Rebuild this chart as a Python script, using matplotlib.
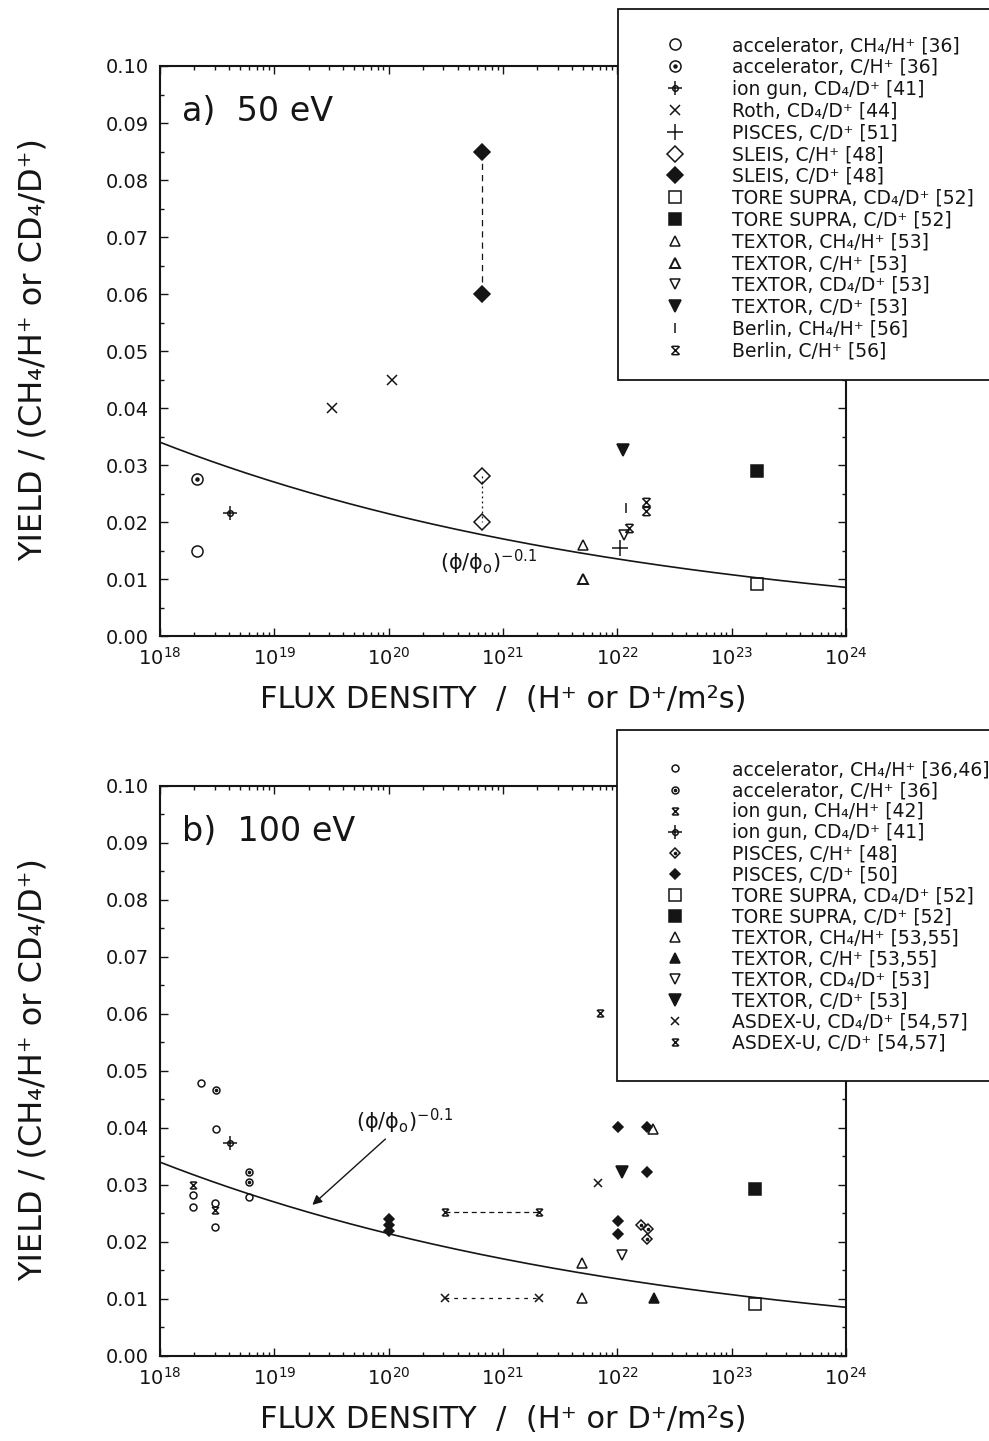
import numpy as np
import matplotlib
matplotlib.use("Agg")
import matplotlib.pyplot as plt
from matplotlib.path import Path
from matplotlib.patches import Rectangle
from matplotlib.legend_handler import HandlerTuple
from matplotlib.ticker import (MultipleLocator, FormatStrFormatter, FixedLocator,
                               LogLocator, NullFormatter, LogFormatterSciNotation)

plt.rcParams['font.family'] = ['DejaVu Sans']
plt.rcParams['mathtext.default'] = 'regular'

# fitted flux dependence, yield = Y0 * (phi/phi0)^-0.1
fit_y0 = 0.034
fit_exp = -0.1
fit_phi0 = 1e18

flux_decades = 10.0 ** np.arange(18, 25)

# ---------------- a) 50 eV ----------------
a_acc_ch4_x = [2.1e18];            a_acc_ch4_y = [0.015]
a_acc_c_x = [2.1e18];              a_acc_c_y = [0.0275]
a_gun_cd4_x = [4.1e18];            a_gun_cd4_y = [0.0215]
a_roth_x = [3.2e19, 1.07e20];      a_roth_y = [0.040, 0.045]
a_pisces_x = [1.05e22];            a_pisces_y = [0.0155]
a_sleis_h_x = [6.5e20, 6.5e20];    a_sleis_h_y = [0.028, 0.020]
a_sleis_d_x = [6.5e20, 6.5e20];    a_sleis_d_y = [0.085, 0.060]
a_tore_cd4_x = [1.66e23];          a_tore_cd4_y = [0.0092]
a_tore_c_x = [1.66e23];            a_tore_c_y = [0.029]
a_tx_ch4_x = [5.0e21];             a_tx_ch4_y = [0.016]
a_tx_ch_x = [5.0e21];              a_tx_ch_y = [0.010]
a_tx_cd4_x = [1.15e22];            a_tx_cd4_y = [0.0177]
a_tx_cd_x = [1.13e22];             a_tx_cd_y = [0.0326]
a_berlin_ch4_x = [1.2e22];         a_berlin_ch4_y = [0.0224]
a_berlin_c_x = [1.78e22, 1.78e22, 1.27e22]
a_berlin_c_y = [0.0236, 0.0219, 0.0190]

# ---------------- b) 100 eV ----------------
b_acc_ch4_x = [2.3e18, 3.1e18, 1.96e18, 1.96e18, 3.0e18, 3.0e18, 6.0e18]
b_acc_ch4_y = [0.0478, 0.0399, 0.0282, 0.0262, 0.0268, 0.0227, 0.0279]
b_acc_c_x = [3.1e18, 6.0e18, 6.0e18]
b_acc_c_y = [0.0467, 0.0323, 0.0306]
b_gun_ch4_x = [1.96e18, 3.0e18];   b_gun_ch4_y = [0.0300, 0.0256]
b_gun_cd4_x = [4.1e18];            b_gun_cd4_y = [0.0373]
b_pisces_h_x = [1.6e22, 1.85e22, 1.8e22]
b_pisces_h_y = [0.0230, 0.0222, 0.0206]
b_pisces_d_x = [1e20, 1e20, 1e20, 1.02e22, 1.8e22, 1.8e22, 1.02e22, 1.02e22]
b_pisces_d_y = [0.0240, 0.0230, 0.0220, 0.0402, 0.0402, 0.0323, 0.0236, 0.0214]
b_tore_cd4_x = [1.6e23];           b_tore_cd4_y = [0.0091]
b_tore_c_x = [1.6e23];             b_tore_c_y = [0.0293]
b_tx_ch4_x = [4.9e21, 4.9e21, 2.05e22]
b_tx_ch4_y = [0.0163, 0.0101, 0.0398]
b_tx_ch_x = [2.1e22];              b_tx_ch_y = [0.0101]
b_tx_cd4_x = [1.1e22];             b_tx_cd4_y = [0.0177]
b_tx_cd_x = [1.1e22];              b_tx_cd_y = [0.0323]
b_asdex_cd4_x = [3.1e20, 2.05e21, 6.8e21]
b_asdex_cd4_y = [0.0101, 0.0101, 0.0303]
b_asdex_c_x = [3.1e20, 2.05e21, 7.1e21]
b_asdex_c_y = [0.0253, 0.0253, 0.0602]

labels_a = [
    'accelerator, CH₄/H⁺ [36]',
    'accelerator, C/H⁺ [36]',
    'ion gun, CD₄/D⁺ [41]',
    'Roth, CD₄/D⁺ [44]',
    'PISCES, C/D⁺ [51]',
    'SLEIS, C/H⁺ [48]',
    'SLEIS, C/D⁺ [48]',
    'TORE SUPRA, CD₄/D⁺ [52]',
    'TORE SUPRA, C/D⁺ [52]',
    'TEXTOR, CH₄/H⁺ [53]',
    'TEXTOR, C/H⁺ [53]',
    'TEXTOR, CD₄/D⁺ [53]',
    'TEXTOR, C/D⁺ [53]',
    'Berlin, CH₄/H⁺ [56]',
    'Berlin, C/H⁺ [56]',
]
labels_b = [
    'accelerator, CH₄/H⁺ [36,46]',
    'accelerator, C/H⁺ [36]',
    'ion gun, CH₄/H⁺ [42]',
    'ion gun, CD₄/D⁺ [41]',
    'PISCES, C/H⁺ [48]',
    'PISCES, C/D⁺ [50]',
    'TORE SUPRA, CD₄/D⁺ [52]',
    'TORE SUPRA, C/D⁺ [52]',
    'TEXTOR, CH₄/H⁺ [53,55]',
    'TEXTOR, C/H⁺ [53,55]',
    'TEXTOR, CD₄/D⁺ [53]',
    'TEXTOR, C/D⁺ [53]',
    'ASDEX-U, CD₄/D⁺ [54,57]',
    'ASDEX-U, C/D⁺ [54,57]',
]

# x with bars top and bottom
M, L = Path.MOVETO, Path.LINETO
XBAR = Path([(-1, -1), (1, 1), (-1, 1), (1, -1),
             (-0.8, 1), (0.8, 1), (-0.8, -1), (0.8, -1)],
            [M, L, M, L, M, L, M, L])

INK = '#151515'


def pts(ax, x, y, marker, ms, filled=False, mew=1.1):
    return ax.plot(x, y, ls='none', marker=marker, ms=ms, color=INK,
                   mfc=INK if filled else 'none', mew=mew, zorder=3)[0]


def dot(ax, x, y, ms=2.2):
    return ax.plot(x, y, ls='none', marker='o', ms=ms, color=INK, zorder=4)[0]


def setup(ax, tag):
    ax.set_xscale('log')
    ax.set_xlim(flux_decades[0], flux_decades[-1])
    ax.set_ylim(0, 0.10)
    ax.yaxis.set_major_locator(MultipleLocator(0.01))
    ax.yaxis.set_minor_locator(MultipleLocator(0.005))
    ax.yaxis.set_major_formatter(FormatStrFormatter('%.2f'))
    ax.xaxis.set_major_locator(FixedLocator(flux_decades))
    ax.xaxis.set_major_formatter(LogFormatterSciNotation())
    ax.xaxis.set_minor_locator(LogLocator(base=10, subs=np.arange(2, 10), numticks=100))
    ax.xaxis.set_minor_formatter(NullFormatter())
    ax.tick_params(which='both', direction='in', top=True, right=True,
                   labelsize=14, width=1.0, colors=INK)
    ax.tick_params(which='major', length=6, pad=8)
    ax.tick_params(which='minor', length=3)
    for s in ax.spines.values():
        s.set_linewidth(1.5)
        s.set_color(INK)
    ax.text(0.032, 0.92, tag, transform=ax.transAxes, fontsize=24,
            ha='left', va='center', color=INK)
    phi = np.logspace(18, 24, 200)
    ax.plot(phi, fit_y0 * (phi / fit_phi0) ** fit_exp, color=INK, lw=1.2, zorder=2)


fig = plt.figure(figsize=(9.89, 14.41), dpi=100)
ax1 = fig.add_axes([0.1618, 0.5586, 0.6936, 0.3956])
ax2 = fig.add_axes([0.1618, 0.0590, 0.6936, 0.3956])
setup(ax1, 'a)  50 eV')
setup(ax2, 'b)  100 eV')

# panel a
ax1.plot(a_sleis_d_x, a_sleis_d_y, ls=(0, (5, 4)), color=INK, lw=0.9, zorder=2)
ax1.plot(a_sleis_h_x, a_sleis_h_y, ls=(0, (1.5, 2.5)), color=INK, lw=0.9, zorder=2)
ha = [
    pts(ax1, a_acc_ch4_x, a_acc_ch4_y, 'o', 8),
    (pts(ax1, a_acc_c_x, a_acc_c_y, 'o', 8), dot(ax1, a_acc_c_x, a_acc_c_y)),
    (pts(ax1, a_gun_cd4_x, a_gun_cd4_y, '+', 10), pts(ax1, a_gun_cd4_x, a_gun_cd4_y, 'o', 4)),
    pts(ax1, a_roth_x, a_roth_y, 'x', 7),
    pts(ax1, a_pisces_x, a_pisces_y, '+', 11),
    pts(ax1, a_sleis_h_x, a_sleis_h_y, 'D', 8),
    pts(ax1, a_sleis_d_x, a_sleis_d_y, 'D', 8, filled=True),
    pts(ax1, a_tore_cd4_x, a_tore_cd4_y, 's', 8),
    pts(ax1, a_tore_c_x, a_tore_c_y, 's', 8, filled=True),
    pts(ax1, a_tx_ch4_x, a_tx_ch4_y, '^', 7),
    pts(ax1, a_tx_ch_x, a_tx_ch_y, '^', 7, mew=1.4),
    pts(ax1, a_tx_cd4_x, a_tx_cd4_y, 'v', 7),
    pts(ax1, a_tx_cd_x, a_tx_cd_y, 'v', 8, filled=True),
    pts(ax1, a_berlin_ch4_x, a_berlin_ch4_y, '|', 7),
    pts(ax1, a_berlin_c_x, a_berlin_c_y, XBAR, 6),
]
ax1.text(2.8e20, 0.0130, r'$(\phi/\phi_o)^{-0.1}$', fontsize=15,
         ha='left', va='center', color=INK)

# panel b
ax2.plot(b_asdex_c_x[:2], b_asdex_c_y[:2], ls=(0, (4, 3)), color=INK, lw=0.9, zorder=2)
ax2.plot(b_asdex_cd4_x[:2], b_asdex_cd4_y[:2], ls=(0, (3, 4)), color=INK, lw=0.9, zorder=2)
hb = [
    pts(ax2, b_acc_ch4_x, b_acc_ch4_y, 'o', 5),
    (pts(ax2, b_acc_c_x, b_acc_c_y, 'o', 5), dot(ax2, b_acc_c_x, b_acc_c_y, 1.6)),
    pts(ax2, b_gun_ch4_x, b_gun_ch4_y, XBAR, 5),
    (pts(ax2, b_gun_cd4_x, b_gun_cd4_y, '+', 10), pts(ax2, b_gun_cd4_x, b_gun_cd4_y, 'o', 4)),
    (pts(ax2, b_pisces_h_x, b_pisces_h_y, 'D', 5), dot(ax2, b_pisces_h_x, b_pisces_h_y, 1.6)),
    pts(ax2, b_pisces_d_x, b_pisces_d_y, 'D', 5.5, filled=True),
    pts(ax2, b_tore_cd4_x, b_tore_cd4_y, 's', 8),
    pts(ax2, b_tore_c_x, b_tore_c_y, 's', 8, filled=True),
    pts(ax2, b_tx_ch4_x, b_tx_ch4_y, '^', 7),
    pts(ax2, b_tx_ch_x, b_tx_ch_y, '^', 7, filled=True),
    pts(ax2, b_tx_cd4_x, b_tx_cd4_y, 'v', 7),
    pts(ax2, b_tx_cd_x, b_tx_cd_y, 'v', 8, filled=True),
    pts(ax2, b_asdex_cd4_x, b_asdex_cd4_y, 'x', 6),
    pts(ax2, b_asdex_c_x, b_asdex_c_y, XBAR, 5),
]
ax2.annotate(r'$(\phi/\phi_o)^{-0.1}$', xy=(2.15e19, 0.0265), xytext=(5.2e19, 0.0411),
             fontsize=15, ha='left', va='center', color=INK,
             arrowprops=dict(arrowstyle='-|>', color=INK, lw=1.0, shrinkA=0, shrinkB=0,
                             mutation_scale=14))

# axis titles
ylab = 'YIELD / (CH₄/H⁺ or CD₄/D⁺)'
xlab = 'FLUX DENSITY  /  (H⁺ or D⁺/m²s)'
for yc, xc in [(1 - 350 / 1441, 1 - 700 / 1441), (1 - 1070 / 1441, 1 - 1420 / 1441)]:
    fig.text(33 / 989, yc, ylab, rotation=90, fontsize=23, ha='center', va='center', color=INK)
    fig.text(503 / 989, xc, xlab, fontsize=22, ha='center', va='center', color=INK)

# boxed legends at the upper right of each panel
for (rx, ry, rh), handles, labels, top, spacing in [
        ((618, 380, 371), ha, labels_a, 36, 0.15),
        ((617, 1081, 351), hb, labels_b, 760, 0.11)]:
    fig.patches.append(Rectangle((rx / 989, 1 - ry / 1441), 0.5, rh / 1441,
                                 transform=fig.transFigure, facecolor='white',
                                 edgecolor=INK, lw=1.3, zorder=5))
    leg = fig.legend(handles, labels, loc='upper left',
                     bbox_to_anchor=(661 / 989, 1 - top / 1441),
                     bbox_transform=fig.transFigure, frameon=False, fontsize=13.5,
                     handlelength=1.5, handletextpad=2.3, labelspacing=spacing,
                     borderpad=0, borderaxespad=0, numpoints=1,
                     handler_map={tuple: HandlerTuple(ndivide=1, pad=0)})
    leg.set_zorder(6)
    for t in leg.get_texts():
        t.set_color(INK)

fig.savefig('out.png', dpi=100, facecolor='white')
